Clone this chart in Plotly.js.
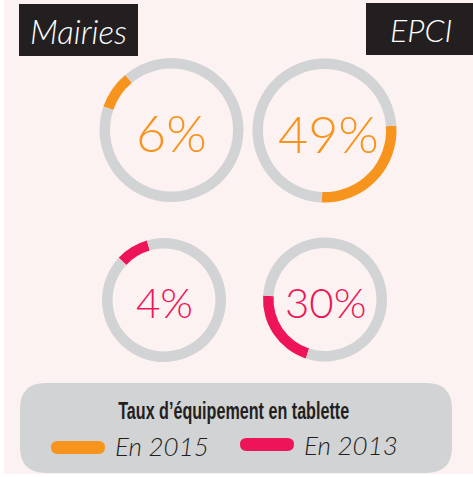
<!DOCTYPE html>
<html>
<head>
<meta charset="utf-8">
<script src="https://cdn.plot.ly/plotly-3.0.1.min.js"></script>
<style>
html,body{margin:0;padding:0;background:#ffffff;}
#chart{width:473px;height:477px;}
</style>
</head>
<body>
<div id="chart"></div>
<script>
// ---- data ----
const groups = ['Mairies', 'EPCI'];
const yearLabels = ['En 2015', 'En 2013'];
const rate2015 = [6, 49];          // % shown in the rings
const rate2013 = [4, 30];
const arcShare2015 = [8.6, 26.7];  // share of ring coloured, as drawn in the picture
const arcShare2013 = [8.6, 21];
const legendTitle = 'Taux d\u2019équipement en tablette';

// ---- styles ----
const W = 473, H = 477;
const ORANGE = '#F7941E', PINK = '#ED1558', GREY = '#D1D3D4', BG = '#FCF2F1', DARK = '#231F20';
const FONT = 'Lato, "Open Sans", sans-serif';
const px = x => x / W;
const py = y => 1 - y / H;

// ring geometry (pixels): centre, outer radius, hole, start angle, label offset, label size
const ringGeom = [
  {cx: 171.5, cy: 130, r: 72, hole: 0.855, rot: 289, tx: 0, fs: 52},
  {cx: 324.5, cy: 130.5, r: 72, hole: 0.855, rot: 86, tx: 4, fs: 52},
  {cx: 164, cy: 300, r: 62, hole: 0.83, rot: 313, tx: 0, fs: 42},
  {cx: 325, cy: 299.5, r: 62, hole: 0.83, rot: 198, tx: 0, fs: 42}
];

const ringData = [
  {share: arcShare2015[0], val: rate2015[0], color: ORANGE, name: groups[0] + ' ' + yearLabels[0]},
  {share: arcShare2015[1], val: rate2015[1], color: ORANGE, name: groups[1] + ' ' + yearLabels[0]},
  {share: arcShare2013[0], val: rate2013[0], color: PINK, name: groups[0] + ' ' + yearLabels[1]},
  {share: arcShare2013[1], val: rate2013[1], color: PINK, name: groups[1] + ' ' + yearLabels[1]}
];

const traces = ringData.map((d, i) => {
  const g = ringGeom[i];
  return {
    type: 'pie',
    name: d.name,
    values: [d.share, 100 - d.share],
    labels: ['a', 'b'],
    marker: {colors: [d.color, GREY], line: {width: 0}},
    hole: g.hole,
    rotation: g.rot,
    direction: 'clockwise',
    sort: false,
    textinfo: 'none',
    hoverinfo: 'none',
    showlegend: false,
    domain: {x: [px(g.cx - g.r), px(g.cx + g.r)], y: [py(g.cy + g.r), py(g.cy - g.r)]}
  };
});

function rrPath(x0, y0, x1, y1, r) {
  const P = (x, y) => px(x).toFixed(5) + ',' + py(y).toFixed(5);
  return 'M' + P(x0 + r, y0) + ' L' + P(x1 - r, y0) + ' Q' + P(x1, y0) + ' ' + P(x1, y0 + r) +
    ' L' + P(x1, y1 - r) + ' Q' + P(x1, y1) + ' ' + P(x1 - r, y1) +
    ' L' + P(x0 + r, y1) + ' Q' + P(x0, y1) + ' ' + P(x0, y1 - r) +
    ' L' + P(x0, y0 + r) + ' Q' + P(x0, y0) + ' ' + P(x0 + r, y0) + ' Z';
}
function rect(x0, y0, x1, y1, color) {
  return {type: 'rect', xref: 'paper', yref: 'paper', x0: px(x0), x1: px(x1), y0: py(y1), y1: py(y0),
    fillcolor: color, line: {width: 0}, layer: 'below'};
}
function path(d, color) {
  return {type: 'path', xref: 'paper', yref: 'paper', path: d, fillcolor: color, line: {width: 0}, layer: 'below'};
}

const shapes = [
  rect(4, 0, 473, 474, BG),
  rect(19, 4, 138, 56, DARK),
  rect(366, 3, 473, 55, DARK),
  path(rrPath(20, 383, 452, 473, 26), GREY),
  path(rrPath(51, 441, 105, 454, 6.5), ORANGE),
  path(rrPath(240, 438, 294, 451, 6.5), PINK)
];

const annotations = [];
ringData.forEach((d, i) => {
  const g = ringGeom[i];
  annotations.push({
    xref: 'paper', yref: 'paper', x: px(g.cx + g.tx), y: py(g.cy + 2), xanchor: 'center', yanchor: 'middle',
    text: d.val + '%', showarrow: false,
    font: {family: FONT, size: g.fs, color: d.color, weight: 300}
  });
});
annotations.push(
  {xref: 'paper', yref: 'paper', x: px(78), y: py(31), xanchor: 'center', yanchor: 'middle', text: '<i>' + groups[0] + '</i>',
   showarrow: false, font: {family: FONT, size: 33, color: '#ffffff', weight: 300}},
  {xref: 'paper', yref: 'paper', x: px(421), y: py(30), xanchor: 'center', yanchor: 'middle', text: '<i>' + groups[1] + '</i>',
   showarrow: false, font: {family: FONT, size: 32, color: '#ffffff', weight: 300}},
  {xref: 'paper', yref: 'paper', x: px(233.5), y: py(411), xanchor: 'center', yanchor: 'middle', text: legendTitle,
   showarrow: false, font: {family: '"Liberation Sans", Arial, sans-serif', size: 23, color: DARK, weight: 'bold'}},
  {xref: 'paper', yref: 'paper', x: px(113), y: py(446), xanchor: 'left', yanchor: 'middle', text: '<i>' + yearLabels[0] + '</i>',
   showarrow: false, font: {family: FONT, size: 26, color: DARK, weight: 300}},
  {xref: 'paper', yref: 'paper', x: px(302), y: py(445), xanchor: 'left', yanchor: 'middle', text: '<i>' + yearLabels[1] + '</i>',
   showarrow: false, font: {family: FONT, size: 26, color: DARK, weight: 300}}
);

const layout = {
  width: W, height: H,
  margin: {l: 0, r: 0, t: 0, b: 0, pad: 0},
  paper_bgcolor: '#ffffff',
  showlegend: false,
  shapes: shapes,
  annotations: annotations
};

Plotly.newPlot('chart', traces, layout, {displayModeBar: false, staticPlot: true}).then(gd => {
  // condensed look for the legend title (the original uses a condensed typeface)
  gd.querySelectorAll('.annotation-text').forEach(t => {
    if (t.textContent === legendTitle) {
      t.setAttribute('textLength', '231');
      t.setAttribute('lengthAdjust', 'spacingAndGlyphs');
    }
  });
});
</script>
</body>
</html>
